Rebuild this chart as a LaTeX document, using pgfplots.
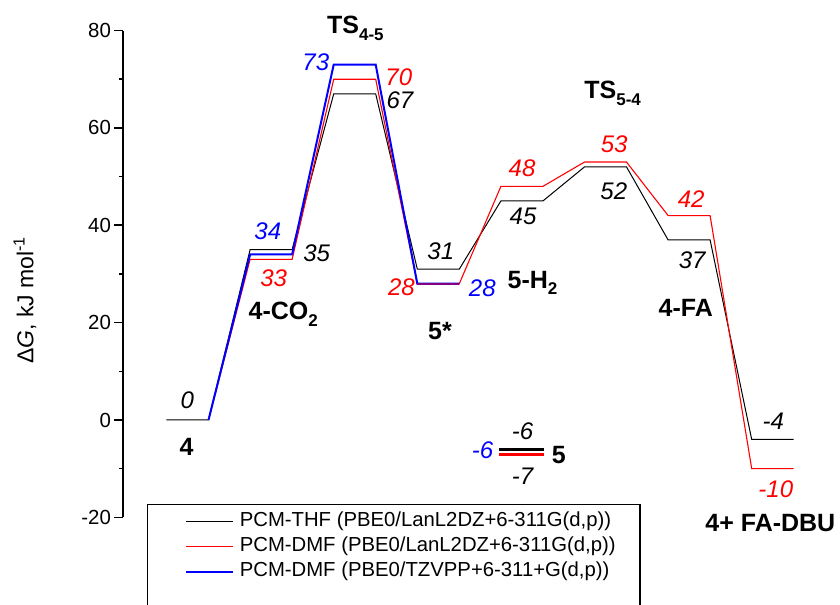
\documentclass[border=0pt]{standalone}
\usepackage{pgfplots}
\pgfplotsset{compat=1.18}
\usepackage{fontspec}
\setmainfont{Liberation Sans}
\definecolor{myred}{rgb}{1,0,0}
\definecolor{myblue}{rgb}{0,0,1}
\definecolor{mypurple}{RGB}{128,0,128}
\tikzset{
 num/.style={font=\fontsize{12}{14}\selectfont\itshape, inner sep=0pt, anchor=center},
 lab/.style={font=\fontsize{12.5}{15}\selectfont\bfseries, inner sep=0pt},
}
\begin{document}
\begin{tikzpicture}
\begin{axis}[
 at={(0,0)}, anchor=south west,
 x=0.5pt, y=2.4335pt,
 xmin=123.3, xmax=840, ymin=-20, ymax=80,
 axis y line=left, axis x line=none,
 axis line style={-, line width=0.8pt},
 ytick={-20,0,20,40,60,80},
 yticklabels={-20,0,20,40,60,80},
 minor ytick={-10,10,30,50,70},
 tick align=outside,
 major tick length=4.5pt, minor tick length=2pt,
 every tick/.style={black, line width=0.8pt},
 yticklabel style={font=\fontsize{10.2}{12}\selectfont, inner sep=0pt, anchor=east, xshift=-1.5pt},
 clip=false,
 legend style={at={(0.0861,-0.0603)}, anchor=west, draw=none, fill=none,
   inner sep=0pt, outer sep=0pt, font=\fontsize{10.15}{12}\selectfont, row sep=2.4pt,
   nodes={inner sep=0pt, text height=7.6pt, text depth=2.5pt},
   /tikz/every odd column/.append style={column sep=3.1pt}},
 legend cell align=left,
 legend image code/.code={\draw[#1] (0pt,0pt) -- (23.3pt,0pt);},
]
% black: PCM-THF
\addplot[black, line width=0.5pt] coordinates {
 (166.5,0) (208.5,0) (250.1,35) (292.1,35) (333.7,67) (375.7,67)
 (417.3,31) (459.3,31) (500.9,45) (542.9,45) (584.5,52) (626.5,52)
 (668.1,37) (710.1,37) (751.7,-4) (793.7,-4)};
\addlegendentry{PCM-THF (PBE0/LanL2DZ+6-311G(d,p))}
% red: PCM-DMF LanL2DZ
\addplot[myred, line width=0.55pt] coordinates {
 (208.5,0) (250.1,33) (292.1,33) (333.7,70) (375.7,70)
 (417.3,28) (459.3,28) (500.9,48) (542.9,48) (584.5,53) (626.5,53)
 (668.1,42) (710.1,42) (751.7,-10) (793.7,-10)};
\addlegendentry{PCM-DMF (PBE0/LanL2DZ+6-311G(d,p))}
% blue: PCM-DMF TZVPP
\addplot[myblue, line width=1pt] coordinates {
 (208.5,0) (250.1,34) (292.1,34) (333.7,73) (375.7,73)
 (417.3,28) (459.3,28)};
\addlegendentry{PCM-DMF (PBE0/TZVPP+6-311+G(d,p))}
% overlap at 5*
\addplot[mypurple, line width=1pt, forget plot] coordinates {(417.3,28) (459.3,28)};
% isolated 5
\addplot[myblue, line width=1.5pt, forget plot] coordinates {(499.3,-6) (544,-6)};
\addplot[black, line width=1.5pt, forget plot] coordinates {(499.3,-6) (544,-6)};
\addplot[myred, line width=1.5pt, forget plot] coordinates {(499.3,-7) (544,-7)};
% legend frame
\draw[line width=0.6pt] (axis cs:147.3,-17.32) rectangle (axis cs:640,-41.1);
% value labels
\node[num] at (axis cs:187.3,4.11) {0};
\node[num, text=myblue] at (axis cs:267.8,38.69) {34};
\node[num] at (axis cs:316.7,34.25) {35};
\node[num, text=myred] at (axis cs:273.7,29.11) {33};
\node[num, text=myblue] at (axis cs:315.8,73.45) {73};
\node[num, text=myred] at (axis cs:398.8,70.33) {70};
\node[num] at (axis cs:400,65.75) {67};
\node[num] at (axis cs:440.8,34.58) {31};
\node[num, text=myred] at (axis cs:401.5,27.18) {28};
\node[num, text=myblue] at (axis cs:482.3,27.06) {28};
\node[num, text=myred] at (axis cs:522,51.72) {48};
\node[num] at (axis cs:523,41.85) {45};
\node[num, text=myred] at (axis cs:614.2,56.75) {53};
\node[num] at (axis cs:613.8,46.91) {52};
\node[num, text=myred] at (axis cs:691.2,45.35) {42};
\node[num] at (axis cs:692.2,32.77) {37};
\node[num] at (axis cs:773.3,-0.27) {-4};
\node[num, text=myred] at (axis cs:775.8,-14.22) {-10};
\node[num] at (axis cs:522.5,-2.40) {-6};
\node[num] at (axis cs:522.5,-11.55) {-7};
\node[num, text=myblue] at (axis cs:482.5,-6.16) {-6};
% species labels
\node[lab, anchor=base] at (axis cs:186.7,-7.31) {4};
\node[lab, anchor=base west] at (axis cs:248.3,20.61) {4-CO\raisebox{-3.3pt}{\fontsize{8.5}{10}\selectfont 2}};
\node[lab, anchor=base] at (axis cs:440,16.44) {5*};
\node[lab, anchor=base west] at (axis cs:507.3,27.06) {5-H\raisebox{-3pt}{\fontsize{8.5}{10}\selectfont 2}};
\node[lab, anchor=base west] at (axis cs:658.3,21.22) {4-FA};
\node[lab, anchor=base west] at (axis cs:705,-22.95) {4+ FA-DBU};
\node[lab, anchor=base] at (axis cs:558.8,-8.90) {5};
\node[lab, anchor=base west] at (axis cs:326.7,79.45) {TS\raisebox{-3.7pt}{\fontsize{8.5}{10}\selectfont 4-5}};
\node[lab, anchor=base west] at (axis cs:584,66.10) {TS\raisebox{-3.8pt}{\fontsize{8.5}{10}\selectfont 5-4}};
% y label
\node[rotate=90, anchor=center, inner sep=0pt, font=\fontsize{11.5}{14}\selectfont] at (axis cs:25,24.66) {Δ\textit{G}, kJ mol\textsuperscript{-1}};
\coordinate (bbsw) at (axis cs:0,-38.0);
\coordinate (bbne) at (axis cs:840,86.29);
\end{axis}
\pgfresetboundingbox
\path[use as bounding box] (bbsw) rectangle (bbne);
\end{tikzpicture}
\end{document}
